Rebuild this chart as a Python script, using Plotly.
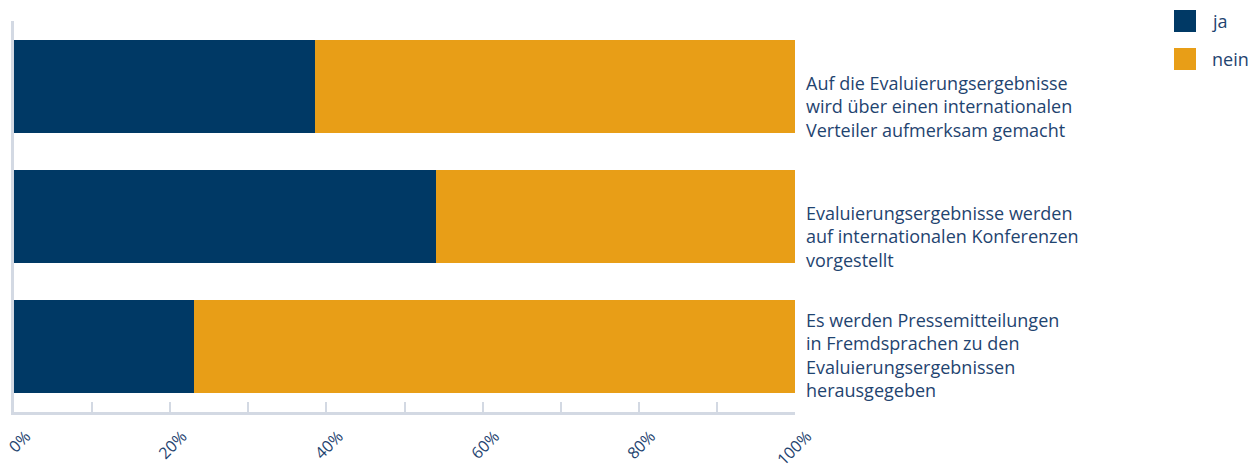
import plotly.graph_objects as go

CATEGORIES = [
    "Auf die Evaluierungsergebnisse<br>wird über einen internationalen<br>Verteiler aufmerksam gemacht",
    "Evaluierungsergebnisse werden<br>auf internationalen Konferenzen<br>vorgestellt",
    "Es werden Pressemitteilungen<br>in Fremdsprachen zu den<br>Evaluierungsergebnissen<br>herausgegeben",
]
JA = [38.5, 54.0, 23.0]
NEIN = [61.5, 46.0, 77.0]
SERIES = ["ja", "nein"]

TICK_VALS = [0, 10, 20, 30, 40, 50, 60, 70, 80, 90, 100]
TICK_TEXT = ["0%", "", "20%", "", "40%", "", "60%", "", "80%", "", "100%"]

COLORS = {"ja": "#003965", "nein": "#e89e17"}
TEXT_COLOR = "#1f4470"
AXIS_COLOR = "#d3d9e3"
FONT = "Open Sans"

ypos = list(range(len(CATEGORIES)))

fig = go.Figure()
for name, vals in zip(SERIES, [JA, NEIN]):
    fig.add_trace(go.Bar(
        x=vals, y=ypos, orientation="h", name=name,
        marker=dict(color=COLORS[name], line=dict(width=0)),
        width=0.715, showlegend=False,
    ))

# category labels to the right of the bars, bottom-aligned with each bar
for i, label in enumerate(CATEGORIES):
    fig.add_annotation(
        x=1, xref="paper", xshift=9, y=i + 0.44, yref="y",
        text=label, showarrow=False, align="left",
        xanchor="left", yanchor="bottom",
        font=dict(family=FONT, size=18, color=TEXT_COLOR),
    )

# manual legend (large squares), positioned relative to the plot area
PW, PH, PL, PB = 781, 391, 14, 412
for k, name in enumerate(SERIES):
    top = 10 + k * 38
    fig.add_shape(
        type="rect", xref="paper", yref="paper",
        x0=(1174 - PL) / PW, x1=(1196 - PL) / PW,
        y0=(PB - top) / PH, y1=(PB - top - 22) / PH,
        fillcolor=COLORS[name], line=dict(width=0),
    )
    fig.add_annotation(
        x=(1210 - PL) / PW, xref="paper", y=(PB - top - 11) / PH, yref="paper",
        text=name, showarrow=False, xanchor="left", yanchor="middle",
        font=dict(family=FONT, size=18, color=TEXT_COLOR),
    )

fig.update_layout(
    barmode="stack",
    width=1254, height=469,
    margin=dict(l=14, r=459, t=21, b=57, autoexpand=False),
    paper_bgcolor="white", plot_bgcolor="white",
    font=dict(family=FONT, color=TEXT_COLOR),
)
fig.update_xaxes(
    range=[0, 100], tickvals=TICK_VALS, ticktext=TICK_TEXT,
    tickangle=-45, ticks="inside", ticklen=10, tickwidth=1.5, tickcolor=AXIS_COLOR,
    showline=True, linecolor=AXIS_COLOR, linewidth=2.5,
    showgrid=False, zeroline=False, automargin=False,
    tickfont=dict(family=FONT, size=16, color=TEXT_COLOR),
    ticklabelshift=12, ticklabelstandoff=6,
)
fig.update_yaxes(
    range=[2.5, -0.5], showticklabels=False, ticks="",
    showline=True, linecolor=AXIS_COLOR, linewidth=3,
    showgrid=False, zeroline=False, automargin=False,
)

# drop the browser's default 8px body margin so the figure sits at the page origin
fig.write_html(
    "out.html",
    config={"displayModeBar": False},
    post_script="document.body.style.margin = '0px';",
)
